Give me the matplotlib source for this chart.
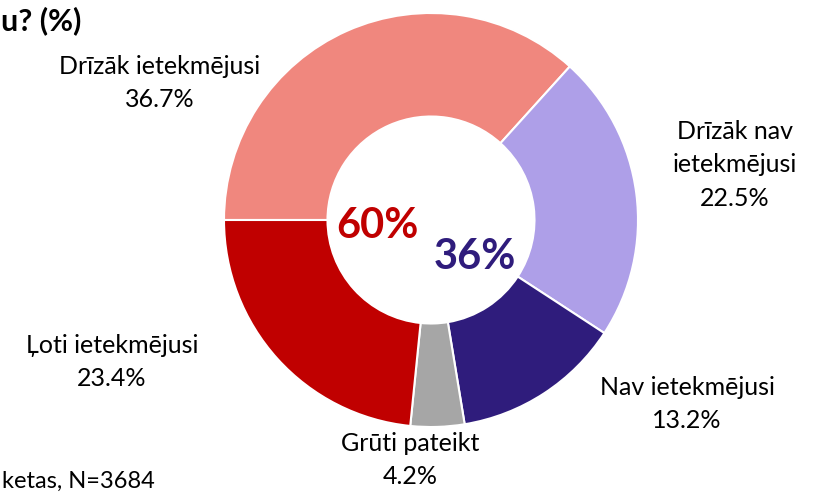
import matplotlib.pyplot as plt

plt.rcParams['font.family'] = ['Lato', 'DejaVu Sans']

labels = ['Drīzāk ietekmējusi', 'Drīzāk nav\nietekmējusi', 'Nav ietekmējusi',
          'Grūti pateikt', 'Ļoti ietekmējusi']
values = [36.7, 22.5, 13.2, 4.2, 23.4]
colors = ['#F0877E', '#AE9FE8', '#2F1C7C', '#A6A6A6', '#C00000']
totals = ['60%', '36%']

W, H = 814, 494
cx, cy, R = 431, 220, 207

fig = plt.figure(figsize=(W / 100, H / 100), dpi=100)
ax = fig.add_axes([0, 0, 1, 1])
ax.pie(values, colors=colors, startangle=180, counterclock=False, radius=1,
       wedgeprops=dict(width=0.5, edgecolor='white', linewidth=1.5))
ax.set_xlim(-cx / R, (W - cx) / R)
ax.set_ylim(-(H - cy) / R, cy / R)
ax.set_aspect('auto')
ax.axis('off')


def px(x, y):
    return x / W, 1 - y / H


# label positions in pixels (center of text block)
label_pos = [(160, 83), (735, 165), (687, 404), (410, 460), (112, 362)]
for lab, v, (x, y) in zip(labels, values, label_pos):
    fig.text(*px(x, y), f'{lab}\n{v}%', ha='center', va='center',
             fontsize=18, color='black', linespacing=1.55)

fig.text(*px(377, 226), totals[0], ha='center', va='center', fontsize=30,
         fontweight='bold', color='#C00000')
fig.text(*px(475, 257), totals[1], ha='center', va='center', fontsize=30,
         fontweight='bold', color='#2F1C7C')

# cropped title and source note
fig.text(*px(1, 21), 'u? (%)', ha='left', va='center',
         fontsize=22, fontweight='bold', color='black')
fig.text(*px(2, 481), 'ketas, N=3684', ha='left', va='center',
         fontsize=17, color='black')

fig.savefig('out.png', dpi=100)
